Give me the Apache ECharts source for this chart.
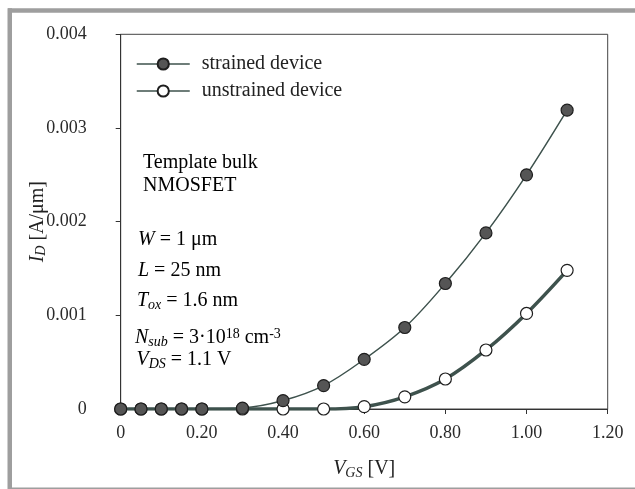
<!DOCTYPE html>
<html lang="en">
<head>
  <meta charset="UTF-8">
  <title>ID vs VGS</title>
  <script src="https://cdn.jsdelivr.net/npm/echarts@6/dist/echarts.min.js"></script>
  <style>
    * { margin: 0; padding: 0; }
    body { background: #fff; }
    #main { width: 635px; height: 489px; }
  </style>
</head>
<body>
  <div id="main"></div>
  <script>
    // gate voltage values [V]
    var vgs = [0, 0.05, 0.1, 0.15, 0.2, 0.3, 0.4, 0.5, 0.6, 0.7, 0.8, 0.9, 1.0, 1.1];
    // drain current [A/um]
    var strained = [0, 0, 0, 0, 0, 0.00001, 0.00009, 0.00025, 0.00053, 0.00087, 0.00134, 0.00188, 0.0025, 0.00319];
    var unstrained = [0, 0, 0, 0, 0, 0, 0, 0, 0.000025, 0.00013, 0.00032, 0.00063, 0.00102, 0.00148];
    var seriesNames = ['strained device', 'unstrained device'];
    var xTickLabels = ['0', '0.20', '0.40', '0.60', '0.80', '1.00', '1.20'];
    var yTickLabels = ['0', '0.001', '0.002', '0.003', '0.004'];

    var serif = '"Liberation Serif", "DejaVu Serif", serif';
    var lineColor = '#3e524d';

    function pairs(xs, ys) {
      return xs.map(function (x, i) { return [x, ys[i]]; });
    }

    // rich text styles for italic variables with sub/superscripts
    var rich = {
      n: { fontFamily: serif, fontSize: 20, color: '#222', lineHeight: 22 },
      i: { fontFamily: serif, fontSize: 20, color: '#222', fontStyle: 'italic', lineHeight: 22 },
      sub: { fontFamily: serif, fontSize: 14, color: '#222', fontStyle: 'italic', lineHeight: 10, verticalAlign: 'bottom' },
      sup: { fontFamily: serif, fontSize: 14, color: '#222', lineHeight: 16, verticalAlign: 'top' }
    };

    function note(x, y, text) {
      return {
        type: 'text', x: x, y: y, z: 10,
        style: { text: text, rich: rich, verticalAlign: 'top', align: 'left' }
      };
    }

    var chart = echarts.init(document.getElementById('main'));
    var option = {
      animation: false,
      backgroundColor: '#fff',
      grid: {
        left: 120.7, right: 27.3, top: 34.3, bottom: 80,
        show: true, borderColor: '#444', borderWidth: 1
      },
      legend: {
        data: seriesNames,
        orient: 'vertical',
        left: 136, top: 54, padding: 0,
        itemWidth: 53, itemHeight: 14, itemGap: 7,
        lineStyle: { width: 1.5, color: lineColor },
        textStyle: { fontFamily: serif, fontSize: 20, color: '#222', padding: [0, 0, 0, 7] }
      },
      xAxis: {
        type: 'value', min: 0, max: 1.2, interval: 0.2,
        name: '{i|V}{sub|GS}{n| [V]}',
        nameLocation: 'middle', nameGap: 49, nameMoveOverlap: false,
        nameTextStyle: { rich: rich },
        axisLine: { lineStyle: { color: '#333', width: 1 } },
        axisTick: { show: true, inside: false, length: 5, lineStyle: { color: '#333' } },
        axisLabel: {
          margin: 15, fontFamily: serif, fontSize: 18, color: '#2a2a2a',
          formatter: function (v) { return xTickLabels[Math.round(v / 0.2)]; }
        },
        splitLine: { show: false }
      },
      yAxis: {
        type: 'value', min: 0, max: 0.004, interval: 0.001,
        name: '{i|I}{sub|D}{n| [A/μm]}',
        nameLocation: 'middle', nameGap: 72, nameRotate: 90, nameMoveOverlap: false,
        nameTextStyle: { rich: rich },
        axisLine: { show: true, lineStyle: { color: '#333', width: 1 } },
        axisTick: { show: true, inside: false, length: 5, lineStyle: { color: '#333' } },
        axisLabel: {
          margin: 34, fontFamily: serif, fontSize: 18, color: '#2a2a2a',
          formatter: function (v) { return yTickLabels[Math.round(v / 0.001)]; }
        },
        splitLine: { show: false }
      },
      graphic: [
        // grey frame
        { type: 'rect', shape: { x: 8, y: 8.3, width: 627, height: 4.4 }, style: { fill: '#9e9e9e' } },
        { type: 'rect', shape: { x: 7.5, y: 8.3, width: 4.5, height: 481 }, style: { fill: '#9e9e9e' } },
        { type: 'rect', shape: { x: 8, y: 487.5, width: 627, height: 1.5 }, style: { fill: '#9e9e9e' } },
        note(143, 152, '{n|Template bulk}'),
        note(143, 174.5, '{n|NMOSFET}'),
        note(138, 229, '{i|W}{n| = 1 μm}'),
        note(138, 259.5, '{i|L}{n| = 25 nm}'),
        note(137, 290, '{i|T}{sub|ox}{n| = 1.6 nm}'),
        note(135, 327, '{i|N}{sub|sub}{n| = 3·10}{sup|18}{n| cm}{sup|-3}'),
        note(136.5, 349, '{i|V}{sub|DS}{n| = 1.1 V}')
      ],
      series: [
        {
          name: seriesNames[1],
          type: 'line',
          data: pairs(vgs, unstrained),
          smooth: 0.35,
          symbol: 'circle', symbolSize: 12,
          lineStyle: { color: lineColor, width: 3.5 },
          itemStyle: { color: '#fff', borderColor: '#1e1e1e', borderWidth: 1.2 },
          z: 2
        },
        {
          name: seriesNames[0],
          type: 'line',
          data: pairs(vgs, strained),
          smooth: 0.35,
          symbol: 'circle', symbolSize: 12,
          lineStyle: { color: lineColor, width: 1.5 },
          itemStyle: { color: '#555', borderColor: '#1e1e1e', borderWidth: 1.2 },
          z: 3
        }
      ]
    };
    chart.setOption(option);
  </script>
</body>
</html>
